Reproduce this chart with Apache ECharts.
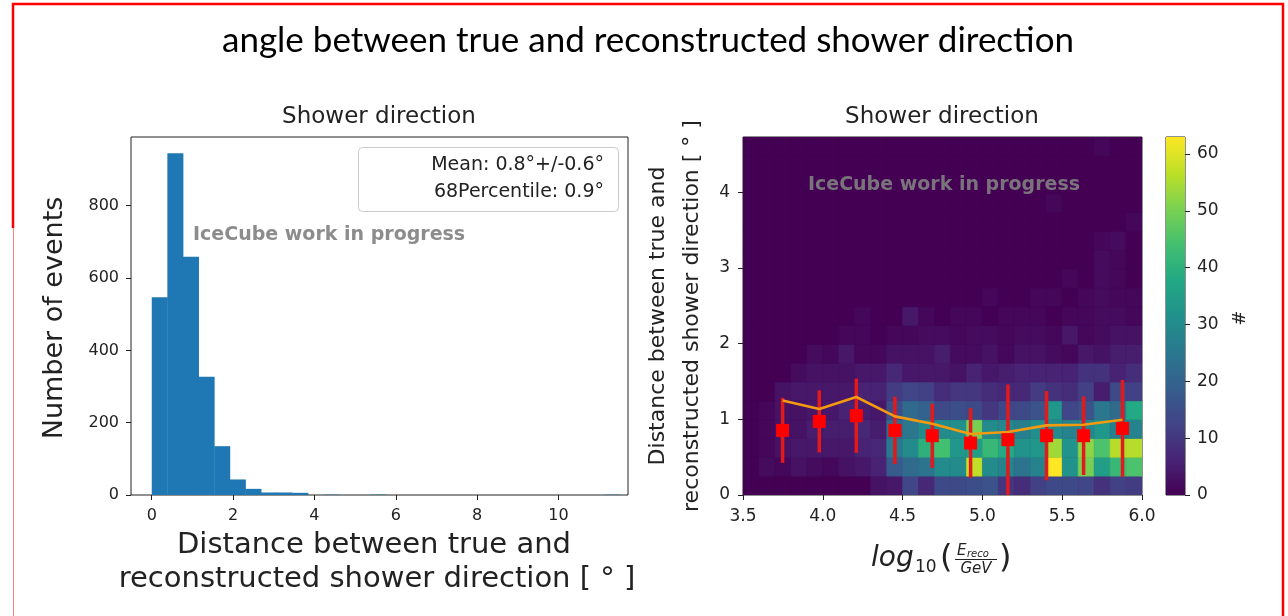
<!DOCTYPE html>
<html><head><meta charset="utf-8">
<script src="https://cdn.jsdelivr.net/npm/echarts@6/dist/echarts.min.js"></script>
<style>html,body{margin:0;padding:0;background:#fff}#c{width:1288px;height:616px}</style>
</head><body><div id="c"></div>
<script>
// ---------- data: left histogram ----------
const histBinStart = 0;
const histBinWidth = 0.384;
const histCounts = [547,945,659,327,135,43,17,7,7,6,0,1,0,0,1,0,0,0,0,0,0,0,0,0,0,0,0,0,0,1];
const histXTicks = [0,2,4,6,8,10];
const histYTicks = [0,200,400,600,800];
const legendLines = ['Mean: 0.8°+/-0.6°', '68Percentile: 0.9°'];

// ---------- data: right 2D histogram (rows bottom -> top, 25 columns) ----------
const heatXStart = 3.5, heatXStep = 0.1;
const heatYStep = 4.732 / 19;
const heatCounts = [
  [0,0,0,0,0,0,0,0,3,4,13,7,14,14,15,16,10,8,12,14,14,13,9,12,11],
  [0,2,1,3,2,1,3,4,6,18,22,24,30,30,57,30,28,24,28,63,32,50,35,42,45],
  [0,1,3,4,4,4,4,6,7,25,30,40,44,33,35,42,38,32,33,54,32,52,45,56,56],
  [0,1,3,3,5,5,5,7,5,22,25,30,30,31,50,30,29,27,31,30,28,29,33,27,28],
  [0,1,3,3,4,4,6,5,4,15,22,20,14,15,14,10,13,14,16,33,13,16,25,22,38],
  [0,0,3,4,4,4,4,6,6,11,13,12,8,10,10,8,7,7,11,9,8,12,5,14,12],
  [0,0,0,2,3,3,3,4,4,7,4,4,4,3,6,4,5,6,6,6,6,9,9,6,8],
  [0,0,0,0,2,1,4,1,1,3,3,3,5,2,2,3,1,3,3,2,1,4,3,5,5],
  [0,0,0,0,0,0,1,1,0,1,1,2,2,1,2,2,1,2,2,1,4,1,2,3,3],
  [0,0,0,0,0,0,0,1,0,0,4,1,0,1,1,0,1,1,1,0,1,1,2,2,1],
  [0,0,0,0,0,0,0,0,0,0,0,0,0,0,0,1,0,0,1,1,0,1,2,1,1],
  [0,0,0,0,0,0,0,0,0,0,0,0,0,0,0,0,0,0,0,0,1,0,2,1,0],
  [0,0,0,0,0,0,0,0,0,0,0,0,0,0,0,0,0,0,0,0,0,0,2,1,0],
  [0,0,0,0,0,0,0,0,0,0,0,0,0,0,0,0,0,0,0,0,0,0,1,2,0],
  [0,0,0,0,0,0,0,0,0,0,0,0,0,0,0,0,0,0,0,0,0,0,0,0,1],
  [0,0,0,0,0,0,0,0,0,0,0,0,0,0,0,0,0,0,0,1,0,0,0,0,0],
  [0,0,0,0,0,0,0,0,0,0,0,0,0,0,0,0,0,0,0,0,0,0,0,0,0],
  [0,0,0,0,0,0,0,0,0,0,0,0,0,0,0,0,0,0,0,0,0,0,0,0,0],
  [0,0,0,0,0,0,0,0,0,0,0,0,0,0,0,0,0,0,0,0,0,0,1,0,0]
];
const heatXTicks = [3.5,4.0,4.5,5.0,5.5,6.0];
const heatYTicks = [0,1,2,3,4];
const cbarMax = 63;
const cbarTicks = [0,10,20,30,40,50,60];

// profile (mean +/- std and 68 percentile)
const profX    = [3.748,3.978,4.210,4.452,4.686,4.926,5.160,5.402,5.634,5.878];
const profMean = [0.854,0.973,1.048,0.854,0.784,0.687,0.731,0.784,0.784,0.880];
const profErr  = [0.43,0.41,0.49,0.445,0.425,0.46,0.73,0.59,0.52,0.64];
const profP68  = [1.250,1.137,1.295,1.039,0.942,0.806,0.833,0.920,0.929,0.995];

const viridis = ['#440154','#482475','#414487','#355f8d','#2a788e','#21918c','#22a884','#44bf70','#7ad151','#bddf26','#fde725'];

// ---------- build ----------
const histData = histCounts.map((c,i)=>[histBinStart+i*histBinWidth, histBinStart+(i+1)*histBinWidth, c]);
const heatData = [];
heatCounts.forEach((row,r)=>row.forEach((v,c)=>{
  heatData.push([heatXStart+c*heatXStep, heatXStart+(c+1)*heatXStep, r*heatYStep, (r+1)*heatYStep, v]);
}));
const errData = profX.map((x,i)=>[x, profMean[i], profErr[i]]);

const FONT = 'DejaVu Sans';
const TXT = '#222';
function tickAxis(extra){ return Object.assign({
  type:'value', splitLine:{show:false}, axisLine:{show:false, onZero:false}
}, extra); }

const chart = echarts.init(document.getElementById('c'), null, {renderer:'canvas'});
const ys = heatYStep*19;
const option = {
  animation:false,
  backgroundColor:'#fff',
  grid:[
    {left:131, top:137, width:497, height:358, show:true, borderColor:TXT, borderWidth:1, backgroundColor:'transparent'},
    {left:743, top:137, width:399, height:358, show:true, borderColor:TXT, borderWidth:1, backgroundColor:'#440154'},
    {left:1166, top:137, width:19, height:358, show:true, borderColor:TXT, borderWidth:1, backgroundColor:'transparent'}
  ],
  xAxis:[
    tickAxis({gridIndex:0, min:-0.51, max:11.71,
      axisTick:{show:true,length:5,lineStyle:{color:TXT},customValues:histXTicks},
      axisLabel:{color:TXT,fontFamily:FONT,fontSize:16,margin:13,customValues:histXTicks}}),
    tickAxis({gridIndex:1, min:3.5, max:6.0,
      axisTick:{show:true,length:5,lineStyle:{color:TXT},customValues:heatXTicks},
      axisLabel:{color:TXT,fontFamily:FONT,fontSize:17,margin:13,customValues:heatXTicks,formatter:v=>v.toFixed(1)}}),
    {type:'value', gridIndex:2, min:0, max:1, show:false}
  ],
  yAxis:[
    tickAxis({gridIndex:0, min:0, max:990,
      axisTick:{show:true,length:5,lineStyle:{color:TXT},customValues:histYTicks},
      axisLabel:{color:TXT,fontFamily:FONT,fontSize:16,margin:12,customValues:histYTicks}}),
    tickAxis({gridIndex:1, min:0, max:ys,
      axisTick:{show:true,length:5,lineStyle:{color:TXT},customValues:heatYTicks},
      axisLabel:{color:TXT,fontFamily:FONT,fontSize:17,margin:13,customValues:heatYTicks}}),
    tickAxis({gridIndex:2, min:0, max:cbarMax, position:'right',
      axisTick:{show:true,length:5,lineStyle:{color:TXT},customValues:cbarTicks},
      axisLabel:{color:TXT,fontFamily:FONT,fontSize:17,margin:12,customValues:cbarTicks}})
  ],
  visualMap:{type:'continuous', show:false, min:0, max:cbarMax, dimension:4, seriesIndex:1, inRange:{color:viridis}},
  series:[
    {type:'custom', xAxisIndex:0, yAxisIndex:0, data:histData, encode:{x:[0,1], y:2}, clip:true,
      renderItem:function(params, api){
        const p0 = api.coord([api.value(0), api.value(2)]);
        const p1 = api.coord([api.value(1), 0]);
        return {type:'rect', shape:{x:p0[0], y:p0[1], width:p1[0]-p0[0]+0.4, height:p1[1]-p0[1]},
          style:{fill:'#1f77b4'}};
      }},
    {type:'custom', xAxisIndex:1, yAxisIndex:1, data:heatData, encode:{x:[0,1], y:[2,3]}, clip:true, z:1,
      renderItem:function(params, api){
        const p0 = api.coord([api.value(0), api.value(3)]);
        const p1 = api.coord([api.value(1), api.value(2)]);
        const col = api.visual('color');
        return {type:'rect', shape:{x:p0[0], y:p0[1], width:p1[0]-p0[0], height:p1[1]-p0[1]},
          style:{fill:col, stroke:col, lineWidth:0.6}};
      }},
    {type:'custom', xAxisIndex:1, yAxisIndex:1, data:errData, encode:{x:0, y:1}, clip:true, z:3,
      renderItem:function(params, api){
        const x = api.value(0), m = api.value(1), e = api.value(2);
        const lo = api.coord([x, Math.max(0, m-e)]);
        const hi = api.coord([x, m+e]);
        return {type:'line', shape:{x1:lo[0], y1:lo[1], x2:hi[0], y2:hi[1]},
          style:{stroke:'#e3191c', lineWidth:3.5}};
      }},
    {type:'line', xAxisIndex:1, yAxisIndex:1, z:4, data:profX.map((x,i)=>[x, profP68[i]]),
      symbol:'none', lineStyle:{color:'#f39a10', width:2.6}},
    {type:'scatter', xAxisIndex:1, yAxisIndex:1, z:5, data:profX.map((x,i)=>[x, profMean[i]]),
      symbol:'rect', symbolSize:13, itemStyle:{color:'#ff0000', opacity:1}},
    {type:'custom', xAxisIndex:2, yAxisIndex:2, data:[[0,1,0,cbarMax]], encode:{x:[0,1], y:[2,3]},
      renderItem:function(params, api){
        const p0 = api.coord([api.value(0), api.value(3)]);
        const p1 = api.coord([api.value(1), api.value(2)]);
        const stops = viridis.map((c,i)=>({offset:i/(viridis.length-1), color:c}));
        return {type:'rect', shape:{x:p0[0], y:p0[1], width:p1[0]-p0[0], height:p1[1]-p0[1]},
          style:{fill:new echarts.graphic.LinearGradient(0,1,0,0,stops)}};
      }}
  ],
  graphic:[]
};

function txt(text, x, y, o){
  o = o || {};
  return {type:'text', x:x, y:y, rotation:o.rotation||0, z:100,
    style:{text:text, fontFamily:o.family||FONT, fontSize:o.size||16, fontWeight:o.weight||'normal',
      fontStyle:o.style||'normal', fill:o.fill||TXT,
      align:o.align||'center', verticalAlign:o.valign||'middle',
      textAlign:o.align||'center', textVerticalAlign:o.valign||'middle'}};
}
const g = option.graphic;
// frame
g.push({type:'polyline', z:90, shape:{points:[[13,228],[13,4],[1283,4],[1283,616]]}, style:{stroke:'#ff0000', lineWidth:2.5, fill:null}});
g.push({type:'line', z:90, shape:{x1:13.5,y1:228,x2:13.5,y2:616}, style:{stroke:'#ff8080', lineWidth:1}});
// titles
g.push(txt('angle between true and reconstructed shower direction', 648, 41, {family:'Lato', size:35, fill:'#000'}));
g.push(txt('Shower direction', 379, 117, {size:23}));
g.push(txt('Shower direction', 942, 117, {size:23}));
// left axis labels
g.push(txt('Number of events', 55, 318, {size:27, rotation:Math.PI/2}));
g.push(txt('Distance between true and', 374, 545, {size:29}));
g.push(txt('reconstructed shower direction [ ° ]', 377, 579, {size:29}));
// legend box
g.push({type:'rect', z:95, shape:{x:358.5, y:147.5, width:260, height:64, r:4}, style:{fill:'rgba(255,255,255,0.85)', stroke:'#cccccc', lineWidth:1}});
g.push(txt(legendLines[0], 604, 165, {size:19, align:'right'}));
g.push(txt(legendLines[1], 604, 192, {size:19, align:'right'}));
// watermarks
g.push(txt('IceCube work in progress', 193, 235, {size:19, weight:'bold', align:'left', fill:'rgba(128,128,128,0.9)'}));
g.push(txt('IceCube work in progress', 944, 185, {size:19, weight:'bold', fill:'rgba(128,128,128,0.9)'}));
// right y label
g.push(txt('Distance between true and', 658, 316, {size:22, rotation:Math.PI/2}));
g.push(txt('reconstructed shower direction [ ° ]', 692, 316, {size:22, rotation:Math.PI/2}));
// right x label: log10(E_reco / GeV)
g.push(txt('log', 871, 559, {size:28, style:'italic', align:'left'}));
g.push(txt('10', 915, 568, {size:17, align:'left'}));
g.push(txt('(', 940, 559, {size:32, align:'left'}));
g.push(txt('E', 957, 551, {size:15, style:'italic', align:'left'}));
g.push(txt('reco', 967, 554, {size:10, style:'italic', align:'left'}));
g.push({type:'line', z:100, shape:{x1:955, y1:559.5, x2:997, y2:559.5}, style:{stroke:TXT, lineWidth:1}});
g.push(txt('GeV', 976, 569, {size:15, style:'italic'}));
g.push(txt(')', 999, 559, {size:32, align:'left'}));
// colorbar label
g.push(txt('#', 1237, 318, {size:18, rotation:-Math.PI/2}));

chart.setOption(option);
</script>
</body></html>
